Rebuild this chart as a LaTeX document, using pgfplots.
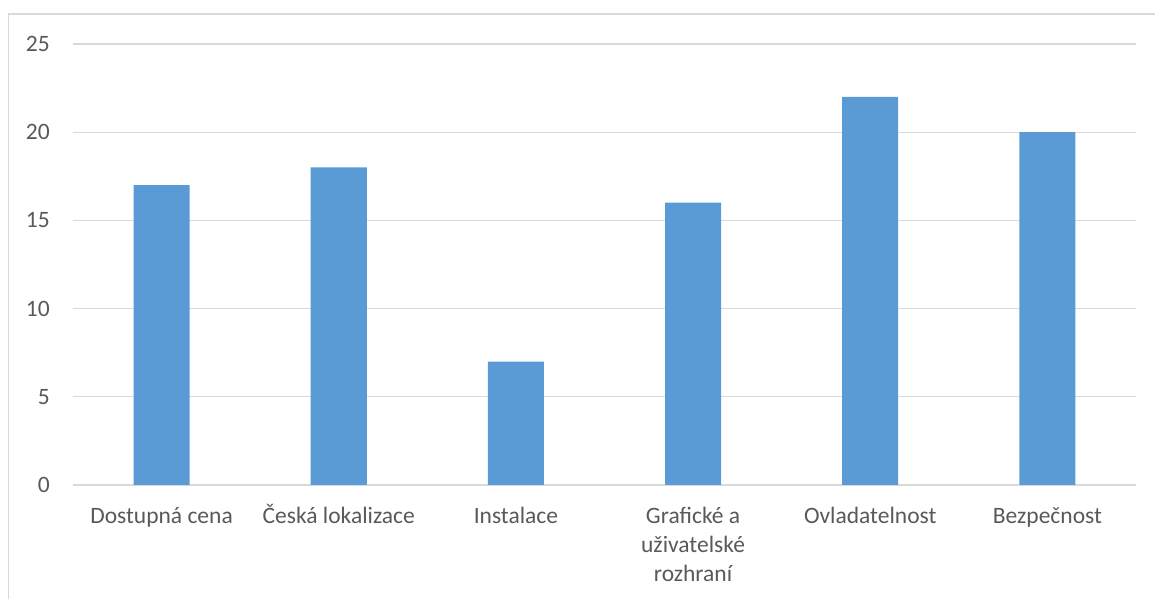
\documentclass[border=0pt]{standalone}
\usepackage{fontspec}
\setmainfont{Carlito}
\usepackage{pgfplots}
\pgfplotsset{compat=1.18}
\definecolor{barblue}{HTML}{5B9BD5}
\definecolor{gridgray}{HTML}{D9D9D9}
\definecolor{txtgray}{HTML}{595959}
\newcommand{\hs}{\rule{0pt}{21bp}}
\begin{document}
\begin{tikzpicture}[x=1bp,y=1bp]
\useasboundingbox (0,0) rectangle (1155,599);
\draw[gridgray, line width=1.3bp] (8.5,0) -- (8.5,585) -- (1155,585);
\begin{axis}[
  at={(73bp,114bp)}, anchor=south west,
  scale only axis, width=1063bp, height=441bp,
  xmin=-0.5, xmax=5.5, ymin=0, ymax=25,
  ybar, bar width=56bp,
  xtick=data,
  xticklabels={\hs Dostupná cena, \hs Česká lokalizace, \hs Instalace, {\hs Grafické a\\uživatelské\\rozhraní}, \hs Ovladatelnost, \hs Bezpečnost},
  ytick={0,5,10,15,20,25},
  axis line style={draw=none},
  major tick length=0pt,
  ymajorgrids, grid style={gridgray, line width=1.3bp},
  /pgf/number format/assume math mode=true,
  ticklabel style={font=\fontsize{23.5bp}{29bp}\selectfont, text=txtgray, inner sep=0pt},
  xticklabel style={align=center, anchor=north, yshift=-17bp},
  yticklabel style={anchor=east, xshift=-23bp},
]
\addplot[fill=barblue, draw=none] coordinates {(0,17) (1,18) (2,7) (3,16) (4,22) (5,20)};
\end{axis}
\end{tikzpicture}
\end{document}
